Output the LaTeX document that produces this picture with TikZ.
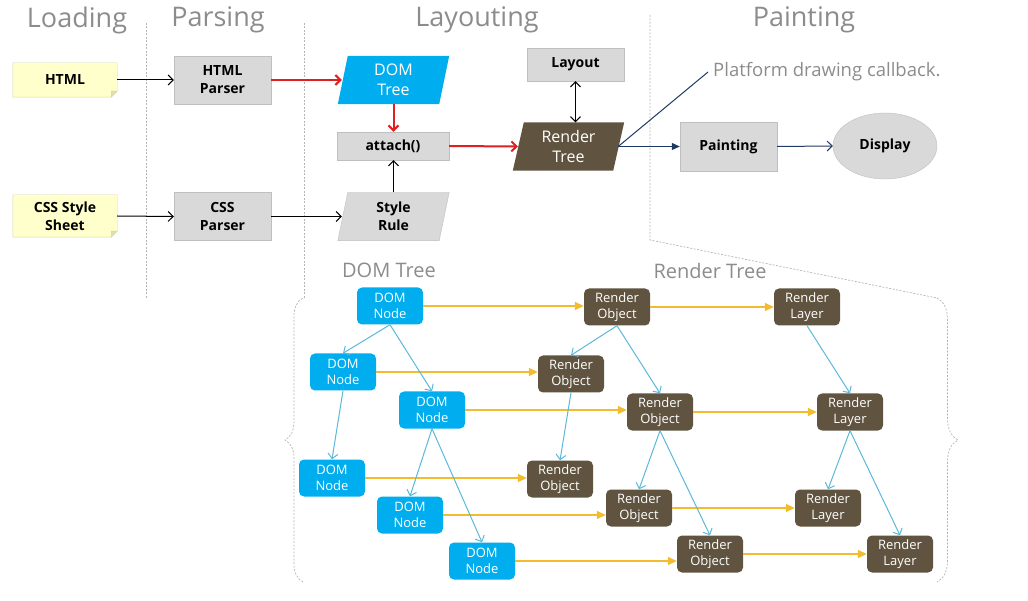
\documentclass[tikz,border=0pt]{standalone}
\usepackage{fontspec}
\setmainfont{Open Sans}
\usetikzlibrary{arrows.meta,decorations.pathreplacing,backgrounds,shapes.geometric}
\definecolor{domc}{HTML}{00AEEF}
\definecolor{renc}{HTML}{605440}
\definecolor{boxf}{HTML}{D9D9D9}
\definecolor{boxb}{HTML}{BFBFBF}
\definecolor{notef}{HTML}{FFFFCC}
\definecolor{noteb}{HTML}{D6D6A8}
\definecolor{foldc}{HTML}{E0E0A8}
\definecolor{redc}{HTML}{E02020}
\definecolor{navy}{HTML}{1F3864}
\definecolor{yel}{HTML}{F2BC2E}
\definecolor{blu}{HTML}{5BB8D8}
\definecolor{titc}{HTML}{8C8C8C}
\definecolor{dashc}{HTML}{B4B4B4}
\begin{document}
\begin{tikzpicture}[x=1pt,y=-1pt,
  title/.style={text=titc,font=\fontsize{27}{30}\selectfont,inner sep=0pt},
  sublabel/.style={text=titc,font=\fontsize{20}{24}\selectfont,inner sep=0pt},
  graybox/.style={draw=boxb,fill=boxf,minimum width=97pt,minimum height=48pt,inner sep=0pt,align=center,font=\bfseries\fontsize{14}{18}\selectfont},
  notebox/.style={minimum width=104pt,inner sep=0pt,align=center,font=\bfseries\fontsize{14}{18}\selectfont},
  para/.style={minimum width=111pt,minimum height=48pt,inner sep=0pt,align=center},
  domn/.style={fill=domc,rounded corners=5pt,text=white,minimum width=66pt,minimum height=37pt,inner sep=0pt,align=center,font=\fontsize{13}{15.5}\selectfont},
  reno/.style={domn,fill=renc},
  blackarr/.style={draw=black,line width=1pt,-{Straight Barb[length=5pt,width=10pt]}},
  redarr/.style={draw=redc,line width=2pt,-{Straight Barb[length=5pt,width=10pt]}},
  yarr/.style={draw=yel,line width=1.6pt,-{Triangle[length=9pt,width=8pt]}},
  barr/.style={draw=blu,line width=1pt,-{Straight Barb[length=5pt,width=10pt]}},
  dline/.style={draw=dashc,line width=0.7pt,dash pattern=on 2pt off 1.5pt}
]
\useasboundingbox (0,0) rectangle (1028,601);

% titles
\node[title] (tload) at (77,20) {Loading};
\node[title] (tpars) at (218,20) {Parsing};
\node[title] (tlay) at (477,20) {Layouting};
\node[title] (tpaint) at (804,20) {Painting};

% dividers
\draw[dline] (146,23) -- (146,298);
\draw[dline] (304,23) -- (304,298);
\draw[dline] (650,15) -- (650,240) -- (937,298);
\draw[dline,decorate,decoration={brace,amplitude=18pt}] (303,582) -- (303,298);
\draw[dline,decorate,decoration={brace,amplitude=21pt}] (937,298) -- (937,582);

% top nodes
\node[notebox,minimum height=34pt] (html) at (65,80) {HTML};
\node[notebox,minimum height=42pt] (css) at (65,216) {CSS Style\\Sheet};
\node[graybox] (hp) at (222.5,80) {HTML\\Parser};
\node[graybox] (cp) at (222.5,216.5) {CSS\\Parser};
\node[para,text=white,font=\fontsize{16}{20}\selectfont] (dom) at (393.5,80) {DOM\\Tree};
\node[graybox,minimum width=112pt,minimum height=28pt] (att) at (393,146) {attach()};
\node[para,font=\bfseries\fontsize{14}{18}\selectfont] (sr) at (393.5,216.5) {Style\\Rule};
\node[para,text=white,font=\fontsize{16}{20}\selectfont] (rt) at (568.5,146.5) {Render\\Tree};
\node[graybox,minimum height=33pt] (lay) at (575.5,64.5) {Layout};
\node[graybox,minimum height=49pt] (pt) at (728.5,146.5) {Painting};
\node[ellipse,draw=boxb,fill=boxf,minimum width=104pt,minimum height=66pt,inner sep=0pt,font=\bfseries\fontsize{14}{18}\selectfont] (disp) at (885,146) {Display};
\node[anchor=west,text=titc,font=\fontsize{18.5}{22}\selectfont,inner sep=0pt] (cbt) at (713,72) {Platform drawing callback.};
\coordinate (cb) at (708,72);

\begin{scope}[on background layer]
  \path[fill=notef,draw=noteb] (html.north west) -- (html.north east) -- ([yshift=6pt]html.south east) -- ([xshift=-6pt]html.south east) -- (html.south west) -- cycle;
  \path[fill=foldc,draw=noteb] ([yshift=6pt]html.south east) -- ([xshift=-6pt,yshift=6pt]html.south east) -- ([xshift=-6pt]html.south east) -- cycle;
  \path[fill=notef,draw=noteb] (css.north west) -- (css.north east) -- ([yshift=6pt]css.south east) -- ([xshift=-6pt]css.south east) -- (css.south west) -- cycle;
  \path[fill=foldc,draw=noteb] ([yshift=6pt]css.south east) -- ([xshift=-6pt,yshift=6pt]css.south east) -- ([xshift=-6pt]css.south east) -- cycle;
  \fill[domc] ([xshift=10pt]dom.north west) -- (dom.north east) -- ([xshift=-10pt]dom.south east) -- (dom.south west) -- cycle;
  \path[fill=boxf,draw=boxb] ([xshift=10pt]sr.north west) -- (sr.north east) -- ([xshift=-10pt]sr.south east) -- (sr.south west) -- cycle;
  \fill[renc] ([xshift=11pt]rt.north west) -- (rt.north east) -- ([xshift=-11pt]rt.south east) -- (rt.south west) -- cycle;
\end{scope}

% top arrows
\draw[blackarr] (html.east) -- (hp.west);
\draw[blackarr] (css.east) -- (cp.west);
\draw[redarr] (hp.east) -- ([xshift=4pt]dom.west);
\draw[blackarr] (cp.east) -- ([xshift=4pt]sr.west);
\draw[redarr] (dom.south) -- (dom.south |- att.north);
\draw[blackarr] (sr.north) -- (sr.north |- att.south);
\draw[redarr] (att.east) -- ([xshift=5pt]rt.west);
\draw[draw=black,line width=1pt,{Straight Barb[length=5pt,width=10pt]}-{Straight Barb[length=5pt,width=10pt]}] (lay.south) -- (lay.south |- rt.north);
\draw[draw=navy,line width=1pt,-{Triangle[length=8pt,width=7pt]}] ([xshift=-6pt]rt.east) -- (pt.west);
\draw[draw=navy,line width=1pt] ([xshift=-6pt]rt.east) -- (cb);
\draw[draw=navy,line width=1pt,-{Straight Barb[length=5pt,width=10pt]}] (pt.east) -- (disp.west);

% bottom labels
\node[sublabel] (ldom) at (389,270) {DOM Tree};
\node[sublabel] (lren) at (710,271) {Render Tree};

% DOM nodes
\node[domn] (d1) at (390,306) {DOM\\Node};
\node[domn] (d2) at (343,372) {DOM\\Node};
\node[domn] (d3) at (432,410) {DOM\\Node};
\node[domn] (d4) at (332,478) {DOM\\Node};
\node[domn] (d5) at (410,515) {DOM\\Node};
\node[domn] (d6) at (482,561) {DOM\\Node};

% render objects
\node[reno] (r1) at (617,307) {Render\\Object};
\node[reno] (r2) at (571,374) {Render\\Object};
\node[reno] (r3) at (660,412) {Render\\Object};
\node[reno] (r4) at (560,479) {Render\\Object};
\node[reno] (r5) at (639,508) {Render\\Object};
\node[reno] (r6) at (710,554) {Render\\Object};

% render layers
\node[reno] (l1) at (807,307) {Render\\Layer};
\node[reno] (l2) at (850,412) {Render\\Layer};
\node[reno] (l3) at (828,508) {Render\\Layer};
\node[reno] (l4) at (900,554) {Render\\Layer};

% yellow arrows
\draw[yarr] (d1.east) -- (d1.east -| r1.west);
\draw[yarr] (d2.east) -- (d2.east -| r2.west);
\draw[yarr] (d3.east) -- (d3.east -| r3.west);
\draw[yarr] (d4.east) -- (d4.east -| r4.west);
\draw[yarr] (d5.east) -- (d5.east -| r5.west);
\draw[yarr] (d6.east) -- (d6.east -| r6.west);
\draw[yarr] (r1.east) -- (r1.east -| l1.west);
\draw[yarr] (r3.east) -- (r3.east -| l2.west);
\draw[yarr] (r5.east) -- (r5.east -| l3.west);
\draw[yarr] (r6.east) -- (r6.east -| l4.west);

% blue tree edges
\draw[barr] (d1.south) -- (d2.north);
\draw[barr] (d1.south) -- (d3.north);
\draw[barr] (d2.south) -- (d4.north);
\draw[barr] (d3.south) -- (d5.north);
\draw[barr] (d3.south) -- (d6.north);
\draw[barr] (r1.south) -- (r2.north);
\draw[barr] (r1.south) -- (r3.north);
\draw[barr] (r2.south) -- (r4.north);
\draw[barr] (r3.south) -- (r5.north);
\draw[barr] (r3.south) -- (r6.north);
\draw[barr] (l1.south) -- (l2.north);
\draw[barr] (l2.south) -- (l3.north);
\draw[barr] (l2.south) -- (l4.north);
\end{tikzpicture}
\end{document}
